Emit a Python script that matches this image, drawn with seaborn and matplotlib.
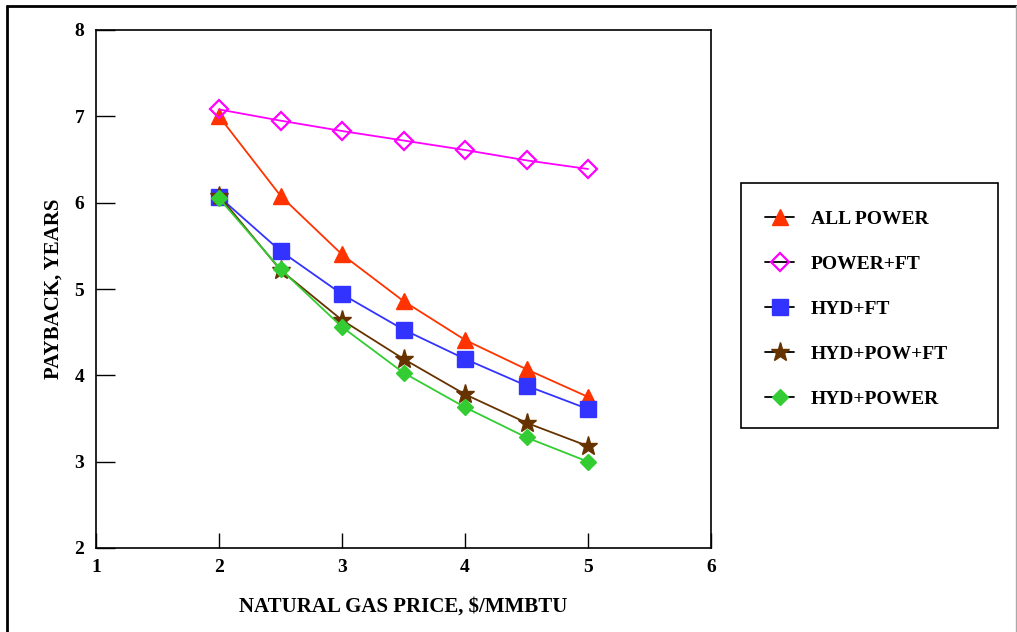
import numpy as np
import pandas as pd
import matplotlib
matplotlib.use("Agg")
import matplotlib.pyplot as plt
from matplotlib.lines import Line2D
from matplotlib.patches import Rectangle
import seaborn as sns

# Dane
gas_price = [2.0, 2.5, 3.0, 3.5, 4.0, 4.5, 5.0]
all_power = [7.00, 6.08, 5.40, 4.86, 4.41, 4.07, 3.75]
power_ft = [7.08, 6.95, 6.83, 6.72, 6.61, 6.49, 6.39]
hyd_ft = [6.07, 5.44, 4.94, 4.53, 4.19, 3.88, 3.61]
hyd_pow_ft = [6.08, 5.22, 4.64, 4.19, 3.78, 3.45, 3.18]
hyd_power = [6.05, 5.23, 4.56, 4.03, 3.63, 3.28, 3.00]

series_names = ["ALL POWER", "POWER+FT", "HYD+FT", "HYD+POW+FT", "HYD+POWER"]
series_values = [all_power, power_ft, hyd_ft, hyd_pow_ft, hyd_power]

x_ticks = [1, 2, 3, 4, 5, 6]
y_ticks = [2, 3, 4, 5, 6, 7, 8]

colors = ["#FF3300", "#FF00FF", "#3333FF", "#663300", "#33CC33"]
markers = ["^", "D", "s", "*", "D"]
msizes = [11, 9, 11, 14, 8]
filled = [True, False, True, True, True]

sns.set_theme(style="white")
plt.rcParams["font.family"] = ["Liberation Serif", "DejaVu Serif"]
plt.rcParams["font.weight"] = "bold"
plt.rcParams["text.color"] = "black"
plt.rcParams["axes.labelcolor"] = "black"
plt.rcParams["xtick.color"] = "black"
plt.rcParams["ytick.color"] = "black"

fig = plt.figure(figsize=(10.17, 6.32), dpi=100)
ax = fig.add_axes([96 / 1017, 1 - 548 / 632, (711 - 96) / 1017, (548 - 30) / 632])

for name, vals, c, m, ms, f in zip(series_names, series_values, colors, markers, msizes, filled):
    df = pd.DataFrame({"price": gas_price, "payback": vals})
    sns.lineplot(data=df, x="price", y="payback", ax=ax, color=c, lw=1.3,
                 marker=m, markersize=ms, markeredgecolor=c,
                 markerfacecolor=(c if f else "none"),
                 markeredgewidth=(1.0 if f else 1.6), zorder=3)

ax.set_xlim(1, 6)
ax.set_ylim(2, 8)
ax.set_xticks(x_ticks)
ax.set_yticks(y_ticks)
ax.tick_params(axis="both", direction="in", labelsize=14, width=1, color="black",
               labelcolor="black", bottom=True, left=True)
ax.tick_params(axis="y", length=14, pad=8.5)
ax.tick_params(axis="x", length=11, pad=8)
for lbl in ax.get_xticklabels() + ax.get_yticklabels():
    lbl.set_fontweight("bold")
for sp in ax.spines.values():
    sp.set_color("black")
    sp.set_linewidth(1.2)

ax.set_xlabel("NATURAL GAS PRICE, $/MMBTU", fontsize=15, fontweight="bold", labelpad=15,
              color="black")
ax.set_ylabel("PAYBACK, YEARS", fontsize=15, fontweight="bold", labelpad=8, color="black")

# Legenda w ramce
fig.patches.append(Rectangle((741 / 1017, 1 - 428 / 632), 257 / 1017, 245 / 632,
                             transform=fig.transFigure, fill=False,
                             edgecolor="black", lw=1.2))
handles = [Line2D([0], [0], color="black", lw=1.3, marker=m, markersize=ms,
                  markeredgecolor=c, markerfacecolor=(c if f else "none"),
                  markeredgewidth=(1.0 if f else 1.6))
           for c, m, ms, f in zip(colors, markers, msizes, filled)]
leg = fig.legend(handles, series_names, loc="center left",
                 bbox_to_anchor=(765 / 1017, 1 - 309 / 632),
                 frameon=False, labelspacing=1.41, handlelength=1.5,
                 handletextpad=0.85, borderpad=0, borderaxespad=0,
                 prop={"weight": "bold", "size": 14})
for t in leg.get_texts():
    t.set_color("black")

# Obramowanie rysunku
fig.add_artist(Line2D([7 / 1017, 7 / 1017], [0, 1 - 6 / 632], transform=fig.transFigure,
                      color="black", lw=2))
fig.add_artist(Line2D([7 / 1017, 1016 / 1017], [1 - 6 / 632, 1 - 6 / 632],
                      transform=fig.transFigure, color="black", lw=2))
fig.add_artist(Line2D([1016 / 1017, 1016 / 1017], [0, 1 - 6 / 632],
                      transform=fig.transFigure, color="#aaaaaa", lw=1))

fig.savefig("out.png", dpi=100)
